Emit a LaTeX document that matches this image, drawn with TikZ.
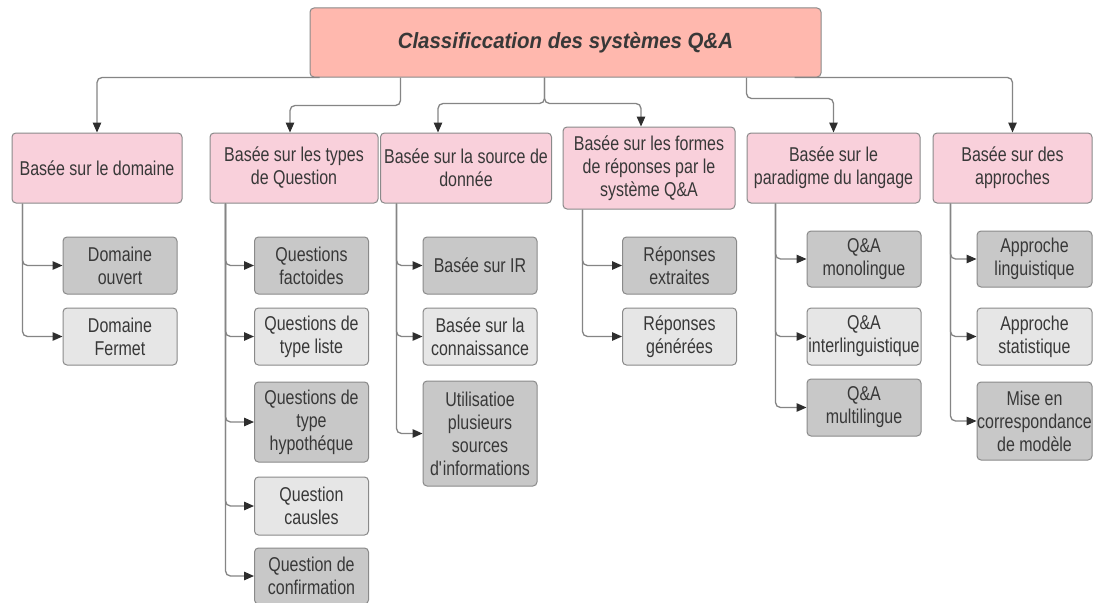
\documentclass[tikz,border=0pt]{standalone}
\usepackage{fontspec}
\setmainfont{Liberation Sans}[FakeStretch=0.8]
\newfontfamily\titlefont{Liberation Sans}[FakeStretch=0.93]
\usetikzlibrary{arrows.meta}

\definecolor{rootfill}{HTML}{FFB8AE}
\definecolor{catfill}{HTML}{F9D0DB}
\definecolor{darkfill}{HTML}{C8C8C8}
\definecolor{lightfill}{HTML}{E6E6E6}
\definecolor{edge}{HTML}{8A8A8A}
\definecolor{ink}{HTML}{383838}
\definecolor{wire}{HTML}{858585}
\definecolor{tipcol}{HTML}{2E2E2E}

\begin{document}
\begin{tikzpicture}[x=1pt,y=-1pt,
  box/.style={draw=edge, line width=1pt, rounded corners=4pt, inner sep=0pt,
    align=center, text=ink, font=\fontsize{20}{23}\selectfont},
  rootbox/.style={box, fill=rootfill, minimum width=511pt, minimum height=69pt,
    font=\titlefont\bfseries\itshape\fontsize{22}{26}\selectfont},
  catbox/.style={box, fill=catfill, minimum height=70pt},
  darkbox/.style={box, fill=darkfill, minimum width=114pt, minimum height=57pt},
  lightbox/.style={box, fill=lightfill, minimum width=114pt, minimum height=57pt},
  link/.style={draw=wire, line width=1.3pt, rounded corners=5pt,
    -{Triangle[length=10pt,width=8.5pt,color=tipcol]}}
]
\fill[white] (0,0) rectangle (1102,602);
\useasboundingbox (0,0) rectangle (1102,602);

% top of the tree
\node[rootbox] (root) at (565.5,42.5) {Classificcation des systèmes Q\&A};

% categories
\node[catbox, minimum width=170pt] (cat1) at (97,168) {Basée sur le domaine};
\node[catbox, minimum width=168pt] (cat2) at (294,168) {Basée sur les types\\de Question};
\node[catbox, minimum width=171pt] (cat3) at (466,168) {Basée sur la source de\\donnée};
\node[catbox, minimum width=172pt, minimum height=82pt] (cat4) at (649,168) {Basée sur les formes\\de réponses par le\\système Q\&A};
\node[catbox, minimum width=173pt] (cat5) at (833.5,168) {Basée sur le\\paradigme du langage};
\node[catbox, minimum width=159pt] (cat6) at (1012.5,168) {Basée sur des\\approches};

% domain
\node[darkbox]  (d1) at (120,265.5) {Domaine\\ouvert};
\node[lightbox] (d2) at (120,336.5) {Domaine\\Fermet};

% question types
\node[darkbox]  (q1) at (311.5,265.5) {Questions\\factoides};
\node[lightbox] (q2) at (311.5,336.5) {Questions de\\type liste};
\node[darkbox, minimum height=80pt]  (q3) at (311.5,422) {Questions de\\type\\hypothéque};
\node[lightbox, minimum height=58pt] (q4) at (311.5,506) {Question\\causles};
\node[darkbox, minimum height=56pt]  (q5) at (311.5,576) {Question de\\confirmation};

% data source
\node[darkbox]  (s1) at (480,265.5) {Basée sur IR};
\node[lightbox] (s2) at (480,336.5) {Basée sur la\\connaissance};
\node[darkbox, minimum height=105pt] (s3) at (480,433.5) {Utilisatioe\\plusieurs\\sources\\d\textquotesingle informations};

% answer forms
\node[darkbox]  (r1) at (679.5,265.5) {Réponses\\extraites};
\node[lightbox] (r2) at (679.5,336.5) {Réponses\\générées};

% language paradigm
\node[darkbox, minimum height=56pt]  (p1) at (864,259) {Q\&A\\monolingue};
\node[lightbox] (p2) at (864,336.5) {Q\&A\\interlinguistique};
\node[darkbox, minimum height=57pt]  (p3) at (864,407.5) {Q\&A\\multilingue};

% approaches
\node[darkbox, minimum width=115pt, minimum height=56pt]  (a1) at (1034.5,259) {Approche\\linguistique};
\node[lightbox, minimum width=115pt] (a2) at (1034.5,336.5) {Approche\\statistique};
\node[darkbox, minimum width=115pt, minimum height=78pt]  (a3) at (1034.5,421) {Mise en\\correspondance\\de modèle};

% root to categories
\draw[link] ([xshift=10pt]root.south west) -| (cat1.north);
\draw[link] ([xshift=91pt]root.south west) -- ++(0,28) -| ([xshift=-4pt]cat2.north);
\draw[link] ([xshift=235pt]root.south west) -- ++(0,26) -| ([xshift=-28pt]cat3.north);
\draw[link] ([xshift=235pt]root.south west) -- ++(0,26) -| ([xshift=-8pt]cat4.north);
\draw[link] ([xshift=437pt]root.south west) -- ++(0,21) -| (cat5.north);
\draw[link] ([xshift=-27pt]root.south east) -| (cat6.north);

% categories to leaves
\foreach \c in {d1,d2} \draw[link] ([xshift=11pt]cat1.south west) |- (\c.west);
\foreach \c in {q1,q2,q3,q4,q5} \draw[link] ([xshift=16pt]cat2.south west) |- (\c.west);
\foreach \c in {s1,s2,s3} \draw[link] ([xshift=16.5pt]cat3.south west) |- (\c.west);
\foreach \c in {r1,r2} \draw[link] ([xshift=20pt]cat4.south west) |- (\c.west);
\foreach \c in {p1,p2,p3} \draw[link] ([xshift=29pt]cat5.south west) |- (\c.west);
\foreach \c in {a1,a2,a3} \draw[link] ([xshift=18pt]cat6.south west) |- (\c.west);
\end{tikzpicture}
\end{document}
